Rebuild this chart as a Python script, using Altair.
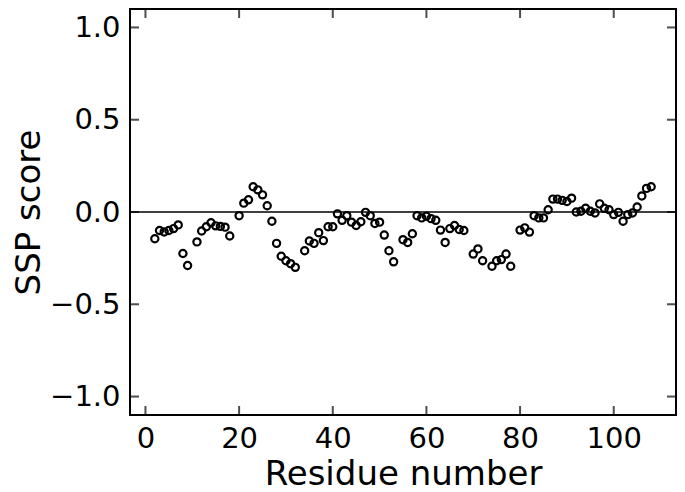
import altair as alt
import pandas as pd

residues = [2, 3, 4, 5, 6, 7, 8, 9, 11, 12, 13, 14, 15, 16, 17, 18,
            20, 21, 22, 23, 24, 25, 26, 27, 28, 29, 30, 31, 32, 34, 35, 36,
            37, 38, 39, 40, 41, 42, 43, 44, 45, 46, 47, 48, 49, 50, 51, 52,
            53, 55, 56, 57, 58, 59, 60, 61, 62, 63, 64, 65, 66, 67, 68, 70,
            71, 72, 74, 75, 76, 77, 78, 80, 81, 82, 83, 84, 85, 86, 87, 88,
            89, 90, 91, 92, 93, 94, 95, 96, 97, 98, 99, 100, 101, 102, 103,
            104, 105, 106, 107, 108]
ssp = [-0.145, -0.100, -0.108, -0.100, -0.090, -0.070, -0.225, -0.290, -0.162,
       -0.103, -0.080, -0.058, -0.075, -0.078, -0.082, -0.130,
       -0.020, 0.048, 0.066, 0.137, 0.120, 0.093, 0.034, -0.050, -0.170, -0.240,
       -0.264, -0.280, -0.300, -0.210, -0.157, -0.170,
       -0.112, -0.155, -0.080, -0.080, -0.010, -0.045, -0.020, -0.055, -0.073,
       -0.053, -0.002, -0.020, -0.062, -0.055, -0.125, -0.210,
       -0.270, -0.150, -0.165, -0.118, -0.020, -0.032, -0.023, -0.036, -0.045,
       -0.098, -0.165, -0.090, -0.073, -0.095, -0.100, -0.228,
       -0.200, -0.264, -0.294, -0.264, -0.258, -0.228, -0.294, -0.098, -0.086,
       -0.109, -0.020, -0.032, -0.032, 0.012, 0.070, 0.070,
       0.063, 0.057, 0.075, 0.000, 0.004, 0.020, 0.004, -0.005, 0.044, 0.020,
       0.012, -0.014, -0.002, -0.050, -0.014,
       -0.005, 0.027, 0.087, 0.128, 0.137]

x_ticks = [0, 20, 40, 60, 80, 100]
y_ticks = [-1.0, -0.5, 0.0, 0.5, 1.0]
zero_line = [0.0]

W, H = 546, 406
FONT = "DejaVu Sans"

xscale = alt.Scale(domain=[-3.3, 113.3], nice=False, zero=False)
yscale = alt.Scale(domain=[-1.1, 1.1], nice=False, zero=False)
xaxis = alt.Axis(values=x_ticks, format="d", labelPadding=9, titlePadding=4)
yaxis = alt.Axis(values=y_ticks, format=".1f", labelPadding=10, titlePadding=3)
XT = "Residue number"
YT = "SSP score"

df = pd.DataFrame({"residue": residues, "ssp": ssp})

points = alt.Chart(df).mark_point(
    shape="circle", filled=False, stroke="black", strokeWidth=2.2, size=52, opacity=1
).encode(
    x=alt.X("residue:Q", scale=xscale, title=XT, axis=xaxis),
    y=alt.Y("ssp:Q", scale=yscale, title=YT, axis=yaxis),
)

zero = alt.Chart(pd.DataFrame({"y": zero_line})).mark_rule(
    color="black", strokeWidth=1.5
).encode(y=alt.Y("y:Q", scale=yscale, title=YT, axis=yaxis))

ytk = pd.DataFrame({"v": y_ticks})
xtk = pd.DataFrame({"v": x_ticks})

ytick_left = alt.Chart(ytk).mark_tick(color="black", thickness=2, size=9, orient="horizontal").encode(
    y=alt.Y("v:Q", scale=yscale, title=YT, axis=yaxis), x=alt.value(4.5))
ytick_right = alt.Chart(ytk).mark_tick(color="black", thickness=2, size=9, orient="horizontal").encode(
    y=alt.Y("v:Q", scale=yscale, title=YT, axis=yaxis), x=alt.value(W - 4.5))
xtick_bottom = alt.Chart(xtk).mark_tick(color="black", thickness=2, size=9, orient="vertical").encode(
    x=alt.X("v:Q", scale=xscale, title=XT, axis=xaxis), y=alt.value(H - 4.5))
xtick_top = alt.Chart(xtk).mark_tick(color="black", thickness=2, size=9, orient="vertical").encode(
    x=alt.X("v:Q", scale=xscale, title=XT, axis=xaxis), y=alt.value(4.5))

chart = alt.layer(points, zero, ytick_left, ytick_right, xtick_bottom, xtick_top).properties(
    width=W, height=H,
    autosize=alt.AutoSizeParams(type="none"),
    padding={"left": 122, "top": 1, "right": 1, "bottom": 77},
).configure_view(
    stroke="black", strokeWidth=2
).configure_axis(
    domain=False, ticks=False, grid=False,
    labelFont=FONT, labelFontSize=29, labelColor="black",
    titleFont=FONT, titleFontSize=34, titleFontWeight="normal", titleColor="black",
)

chart.save("out.html", embed_options={"renderer": "svg", "actions": False})
